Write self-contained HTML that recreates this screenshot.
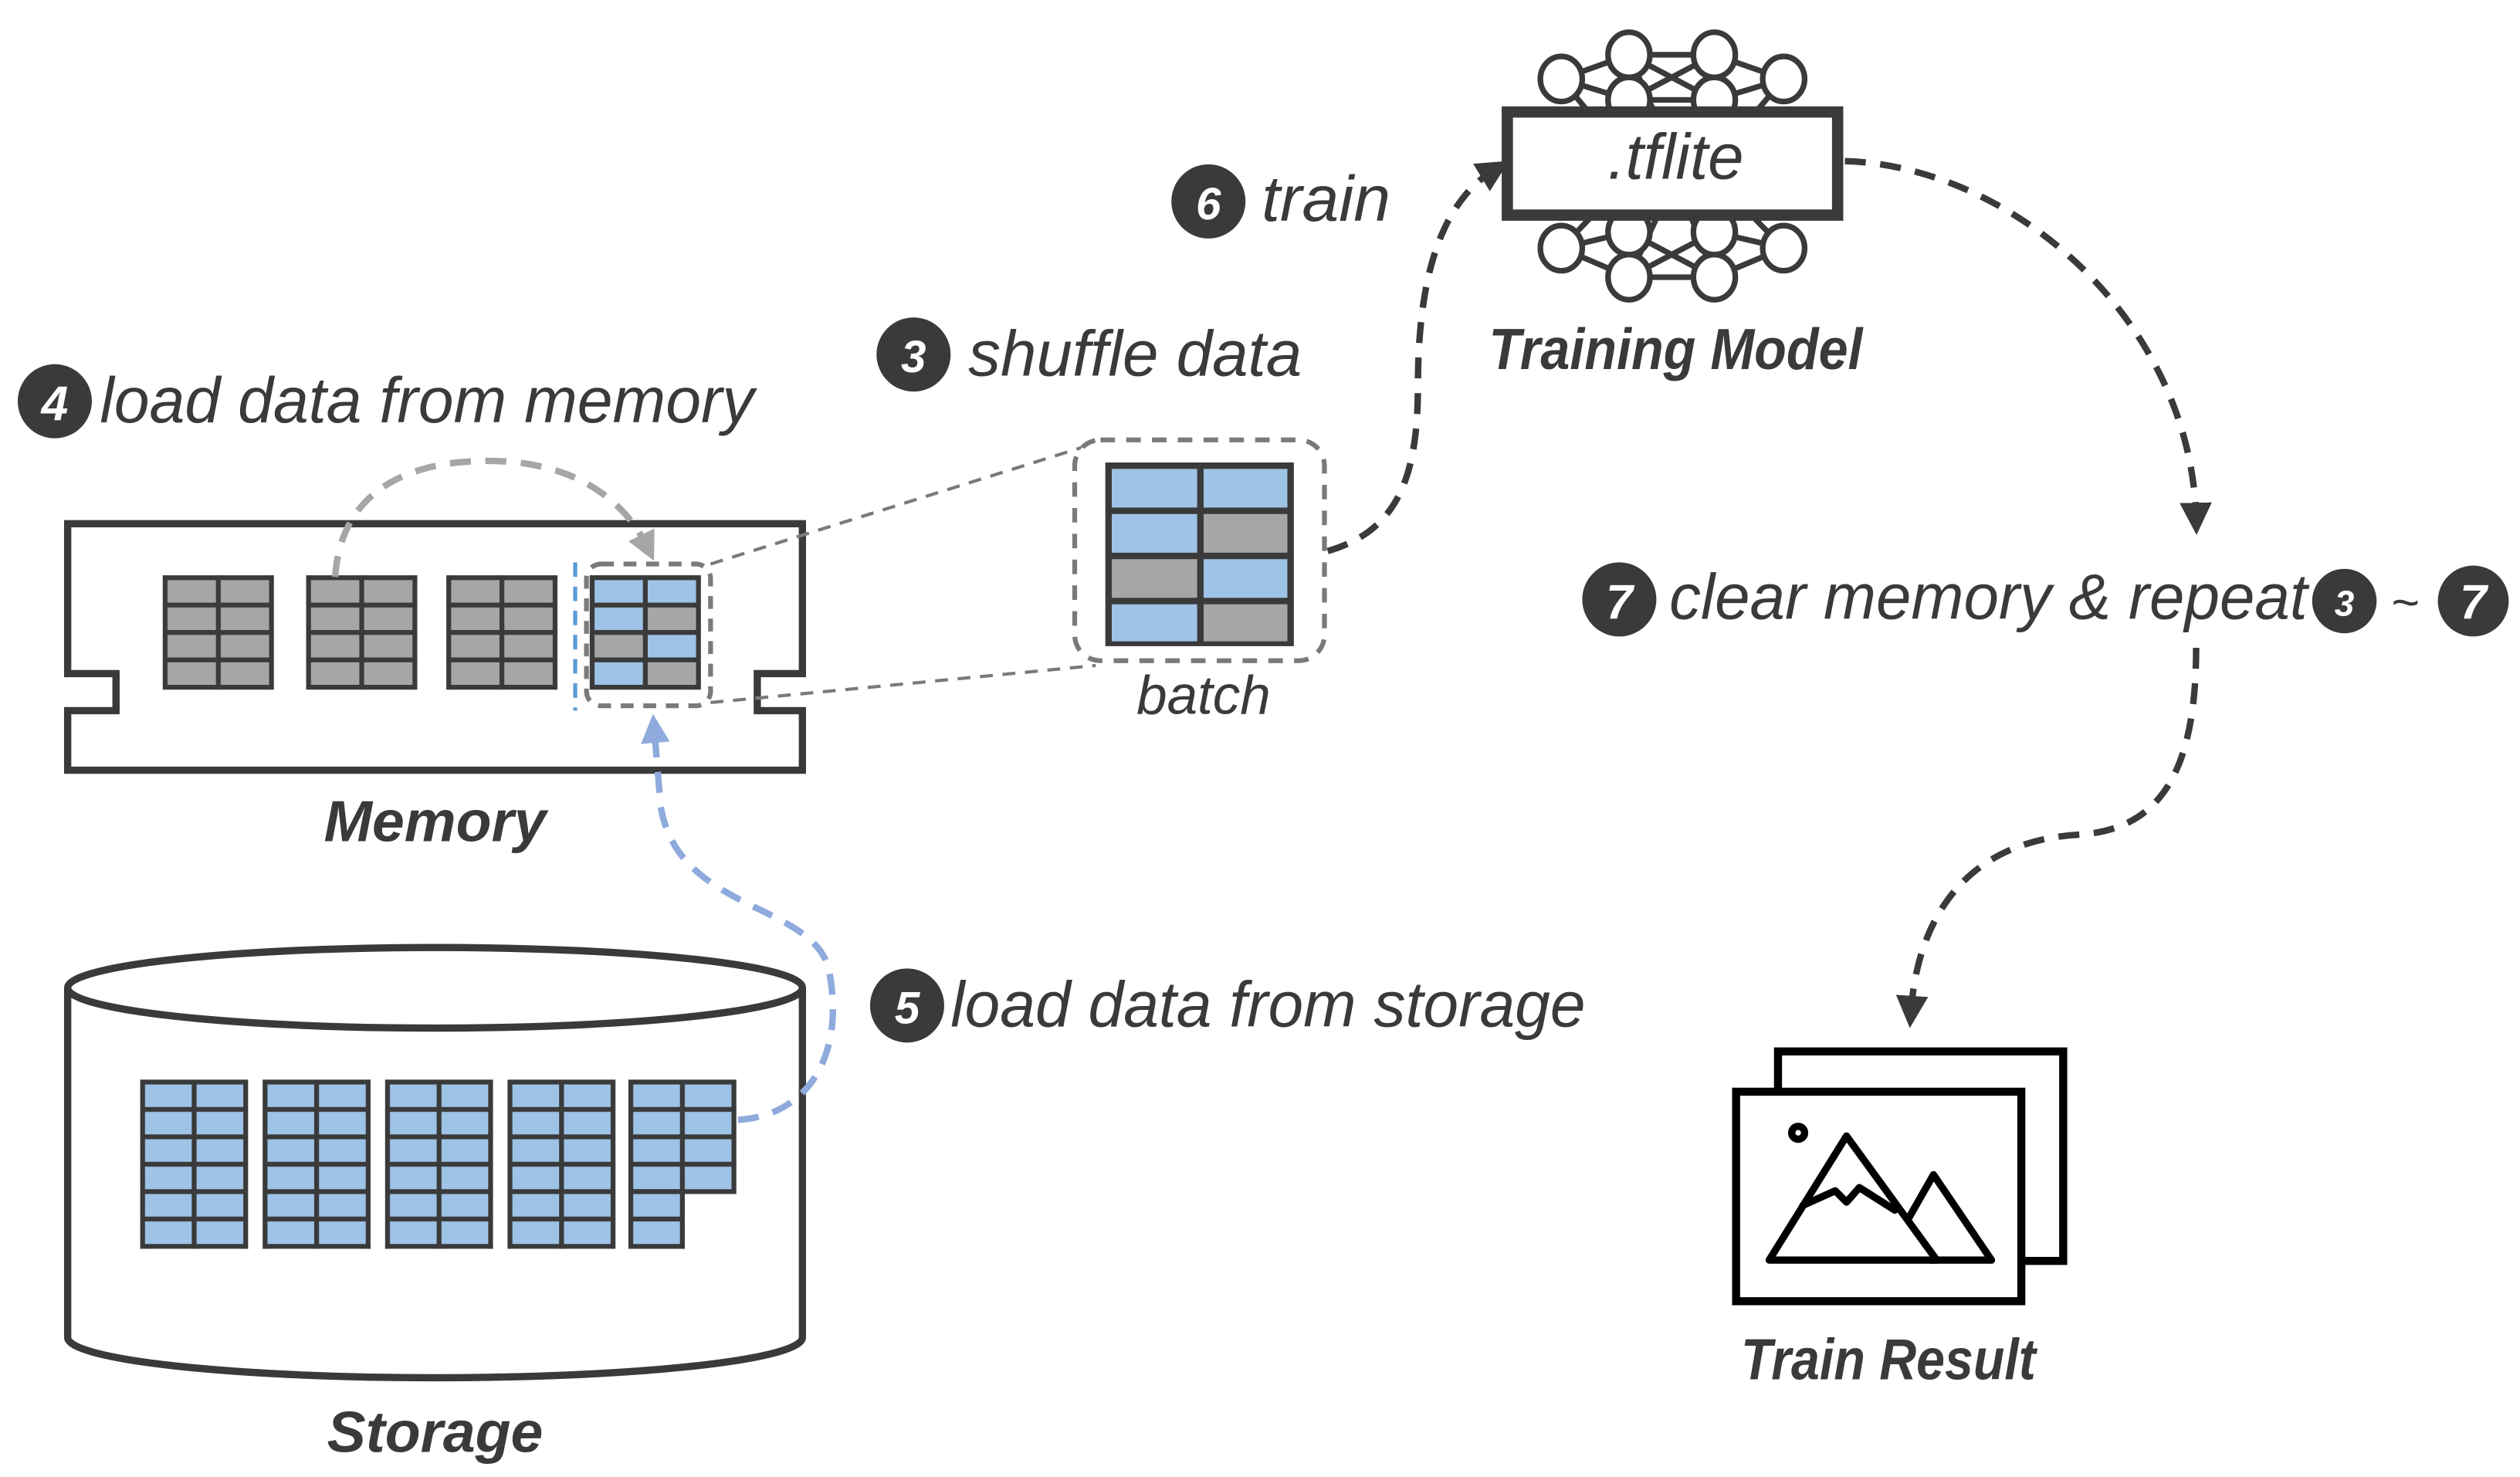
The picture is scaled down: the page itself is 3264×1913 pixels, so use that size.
<!DOCTYPE html>
<html><head><meta charset="utf-8"><style>
html,body{margin:0;padding:0;background:#fff;}
svg{display:block;}
text{font-family:"Liberation Sans",sans-serif;fill:#3a3a3a;}
.it{font-style:italic;}
.bd{font-weight:bold;font-style:italic;}
.num{fill:#fff;font-weight:bold;font-style:italic;text-anchor:middle;}
</style></head><body>
<svg width="3264" height="1913" viewBox="0 0 1564 916.6" preserveAspectRatio="none" xmlns="http://www.w3.org/2000/svg">
<defs>
<pattern id="pg" width="33" height="17" patternUnits="userSpaceOnUse"><rect x="3" y="3" width="30" height="14" fill="#a6a6a6"/></pattern>
<pattern id="pb" width="32" height="17" patternUnits="userSpaceOnUse"><rect x="3" y="3" width="29" height="14" fill="#9dc3e6"/></pattern>
<marker id="ad" viewBox="0 0 10 10" refX="5" refY="5" markerWidth="5" markerHeight="5" orient="auto"><path d="M0,0 L10,5 L0,10z" fill="#3a3a3a"/></marker>
<marker id="ag" viewBox="0 0 10 10" refX="5" refY="5" markerWidth="4.5" markerHeight="4.5" orient="auto"><path d="M0,0 L10,5 L0,10z" fill="#a6a6a6"/></marker>
<marker id="ab" viewBox="0 0 10 10" refX="5" refY="5" markerWidth="4.5" markerHeight="4.5" orient="auto"><path d="M0,0 L10,5 L0,10z" fill="#8faadc"/></marker>
</defs>

<!-- step 4 -->
<circle cx="34" cy="249" r="23" fill="#3a3a3a"/>
<text class="num" x="34" y="261" font-size="30">4</text>
<text class="it" x="62" y="262" font-size="40" textLength="406" lengthAdjust="spacingAndGlyphs">load data from memory</text>

<!-- memory box -->
<path d="M42,325 H498 V418 H470 V441 H498 V478 H42 V441 H72 V418 H42 Z" fill="#fff" stroke="#3a3a3a" stroke-width="4.5"/>
<g transform="translate(101,357)"><rect width="69" height="71" fill="#3a3a3a"/><rect width="69" height="71" fill="url(#pg)"/></g>
<g transform="translate(190,357)"><rect width="69" height="71" fill="#3a3a3a"/><rect width="69" height="71" fill="url(#pg)"/></g>
<g transform="translate(277,357)"><rect width="69" height="71" fill="#3a3a3a"/><rect width="69" height="71" fill="url(#pg)"/></g>
<g transform="translate(366,357)"><rect width="69" height="71" fill="#3a3a3a"/>
<rect x="3" y="3" width="30" height="14" fill="#9dc3e6"/><rect x="36" y="3" width="30" height="14" fill="#9dc3e6"/>
<rect x="3" y="20" width="30" height="14" fill="#9dc3e6"/><rect x="36" y="20" width="30" height="14" fill="#a6a6a6"/>
<rect x="3" y="37" width="30" height="14" fill="#a6a6a6"/><rect x="36" y="37" width="30" height="14" fill="#9dc3e6"/>
<rect x="3" y="54" width="30" height="14" fill="#9dc3e6"/><rect x="36" y="54" width="30" height="14" fill="#a6a6a6"/>
</g>
<line x1="357" y1="349" x2="357" y2="441" stroke="#5b9bd5" stroke-width="2.5" stroke-dasharray="9,6"/>
<rect x="364" y="350" width="77" height="88" rx="9" fill="none" stroke="#7a7a7a" stroke-width="3" stroke-dasharray="8,6"/>
<path d="M208,358 C212,300 260,286 303,286 C350,286 385,305 402,340" fill="none" stroke="#a6a6a6" stroke-width="4" stroke-dasharray="13,9" marker-end="url(#ag)"/>
<text class="bd" x="270" y="522" font-size="36" text-anchor="middle">Memory</text>

<!-- zoom lines -->
<line x1="441" y1="350" x2="680" y2="275" stroke="#7a7a7a" stroke-width="2" stroke-dasharray="8,6"/>
<line x1="441" y1="436" x2="680" y2="413" stroke="#7a7a7a" stroke-width="2" stroke-dasharray="8,6"/>

<!-- step 3 + batch -->
<circle cx="567" cy="220" r="23" fill="#3a3a3a"/>
<text class="num" x="567" y="231" font-size="28">3</text>
<text class="it" x="601" y="233" font-size="40" textLength="207" lengthAdjust="spacingAndGlyphs">shuffle data</text>
<rect x="667" y="273" width="155" height="137" rx="16" fill="#fff" stroke="#7a7a7a" stroke-width="3" stroke-dasharray="9,7"/>
<rect x="686" y="287" width="117" height="114" fill="#3a3a3a"/>
<rect x="690" y="291" width="53" height="24" fill="#9dc3e6"/><rect x="747" y="291" width="52" height="24" fill="#9dc3e6"/>
<rect x="690" y="319" width="53" height="24" fill="#9dc3e6"/><rect x="747" y="319" width="52" height="24" fill="#a6a6a6"/>
<rect x="690" y="347" width="53" height="24" fill="#a6a6a6"/><rect x="747" y="347" width="52" height="24" fill="#9dc3e6"/>
<rect x="690" y="375" width="53" height="23" fill="#9dc3e6"/><rect x="747" y="375" width="52" height="23" fill="#a6a6a6"/>
<text class="it" x="747" y="443" font-size="34" text-anchor="middle">batch</text>

<!-- step 6 -->
<circle cx="750" cy="125" r="23" fill="#3a3a3a"/>
<text class="num" x="750" y="136" font-size="28">6</text>
<text class="it" x="783" y="137" font-size="40" textLength="80" lengthAdjust="spacingAndGlyphs">train</text>
<path d="M824,342 C865,330 880,300 880,240 C880,170 895,125 928,105" fill="none" stroke="#3a3a3a" stroke-width="4" stroke-dasharray="13,9" marker-end="url(#ad)"/>

<!-- neural net -->
<g stroke="#3a3a3a" stroke-width="3.5" fill="none">
<path d="M969,49 L1011,34 M969,49 L1011,62 M969,49 L1011,100 M1011,34 L1064,34 M1011,34 L1064,62 M1011,62 L1064,34 M1011,34 L1040,100 M1064,34 L1040,100 M1064,34 L1107,49 M1064,62 L1107,49 M1107,49 L1064,100 M1011,62 L1064,62"/>
<path d="M969,154 L1011,172 M969,154 L1011,144 M1011,172 L1064,172 M1011,172 L1064,144 M1011,144 L1064,172 M1064,172 L1107,154 M1064,144 L1107,154 M1011,172 L1040,110 M1064,172 L1040,110 M969,154 L1011,110 M1107,154 L1064,110"/>
</g>
<g stroke="#3a3a3a" stroke-width="3.5" fill="#fff">
<ellipse cx="1011" cy="62" rx="13" ry="14"/><ellipse cx="1064" cy="62" rx="13" ry="14"/>
<ellipse cx="969" cy="49" rx="13" ry="14"/><ellipse cx="1011" cy="34" rx="13" ry="14"/><ellipse cx="1064" cy="34" rx="13" ry="14"/><ellipse cx="1107" cy="49" rx="13" ry="14"/>
<ellipse cx="1011" cy="144" rx="13" ry="14"/><ellipse cx="1064" cy="144" rx="13" ry="14"/>
<ellipse cx="969" cy="154" rx="13" ry="14"/><ellipse cx="1011" cy="172" rx="13" ry="14"/><ellipse cx="1064" cy="172" rx="13" ry="14"/><ellipse cx="1107" cy="154" rx="13" ry="14"/>
</g>
<rect x="935.5" y="69.5" width="205" height="64" fill="#fff" stroke="#3a3a3a" stroke-width="7"/>
<text class="it" x="1040" y="111" font-size="40" text-anchor="middle">.tflite</text>
<text class="bd" x="1040" y="229" font-size="36" text-anchor="middle" textLength="232" lengthAdjust="spacingAndGlyphs">Training Model</text>
<path d="M1145,100 C1250,103 1360,200 1363,322" fill="none" stroke="#3a3a3a" stroke-width="4" stroke-dasharray="13,9" marker-end="url(#ad)"/>

<!-- step 7 -->
<circle cx="1005" cy="372" r="23" fill="#3a3a3a"/>
<text class="num" x="1005" y="384" font-size="30">7</text>
<text class="it" x="1036" y="384" font-size="40" textLength="396" lengthAdjust="spacingAndGlyphs">clear memory &amp; repeat</text>
<circle cx="1455" cy="373" r="20" fill="#3a3a3a"/>
<text class="num" x="1455" y="382" font-size="22">3</text>
<text x="1493" y="384" font-size="30" text-anchor="middle">~</text>
<circle cx="1535" cy="373" r="22" fill="#3a3a3a"/>
<text class="num" x="1535" y="384" font-size="30">7</text>
<path d="M1363,402 C1363,480 1340,515 1290,518 C1220,522 1190,570 1186,628" fill="none" stroke="#3a3a3a" stroke-width="4" stroke-dasharray="13,9" marker-end="url(#ad)"/>

<!-- train result -->
<rect x="1103.5" y="652.5" width="177" height="130" fill="#fff" stroke="#000" stroke-width="5"/>
<rect x="1077.5" y="677.5" width="177" height="130" fill="#fff" stroke="#000" stroke-width="5"/>
<g fill="none" stroke="#000" stroke-width="4.5" stroke-linejoin="round" stroke-linecap="round">
<circle cx="1116" cy="703" r="4"/>
<path d="M1098,782 L1146,705 L1202,782 Z"/>
<path d="M1184,757 L1200,729 L1236,782 L1198,782"/>
<path d="M1119,748 L1139,739 L1146,746 L1154,737 L1176,751"/>
</g>
<text class="bd" x="1172" y="856" font-size="36" text-anchor="middle" textLength="183" lengthAdjust="spacingAndGlyphs">Train Result</text>

<!-- storage -->
<path d="M42,613 V830 A228,25 0 0 0 498,830 V613" fill="#fff" stroke="#3a3a3a" stroke-width="4.5"/>
<ellipse cx="270" cy="613" rx="228" ry="25" fill="#fff" stroke="#3a3a3a" stroke-width="4.5"/>
<g transform="translate(87,670)"><rect width="67" height="105" fill="#3a3a3a"/><rect width="67" height="105" fill="url(#pb)"/></g>
<g transform="translate(163,670)"><rect width="67" height="105" fill="#3a3a3a"/><rect width="67" height="105" fill="url(#pb)"/></g>
<g transform="translate(239,670)"><rect width="67" height="105" fill="#3a3a3a"/><rect width="67" height="105" fill="url(#pb)"/></g>
<g transform="translate(315,670)"><rect width="67" height="105" fill="#3a3a3a"/><rect width="67" height="105" fill="url(#pb)"/></g>
<g transform="translate(390,670)"><rect width="67" height="71" fill="#3a3a3a"/><rect width="67" height="71" fill="url(#pb)"/><rect y="68" width="35" height="37" fill="#3a3a3a"/><rect x="3" y="71" width="29" height="14" fill="#9dc3e6"/><rect x="3" y="88" width="29" height="14" fill="#9dc3e6"/></g>
<text class="bd" x="270" y="901" font-size="36" text-anchor="middle">Storage</text>

<!-- step 5 -->
<path d="M458,695 C505,692 525,650 514,600 C502,560 420,565 410,500 L406,452" fill="none" stroke="#8faadc" stroke-width="4" stroke-dasharray="13,9" marker-end="url(#ab)"/>
<circle cx="563" cy="624" r="23" fill="#3a3a3a"/>
<text class="num" x="563" y="635" font-size="28">5</text>
<text class="it" x="590" y="637" font-size="40" textLength="394" lengthAdjust="spacingAndGlyphs">load data from storage</text>
</svg>
</body></html>
